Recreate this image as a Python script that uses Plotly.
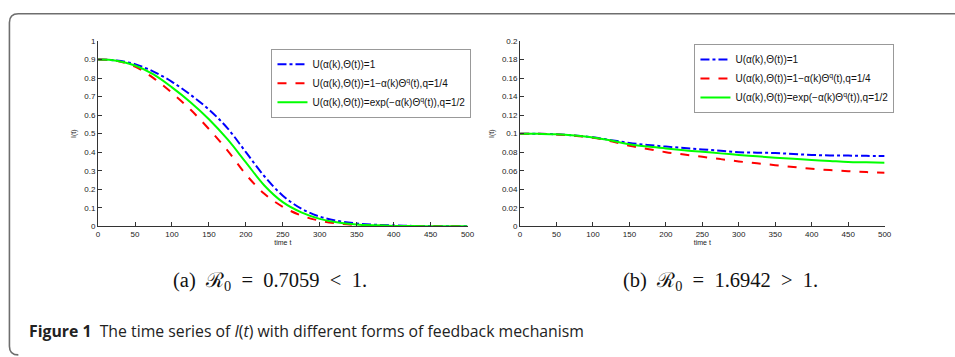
import plotly.graph_objects as go

# ---------------- data ----------------
t = [0, 25, 50, 75, 100, 125, 150, 175, 200, 225, 250, 275, 300, 325, 350, 375, 400, 425, 450, 475, 500]

# panel (a)  R0 = 0.7059 < 1
a_const = [0.9, 0.895, 0.875, 0.835, 0.78, 0.71, 0.63, 0.53, 0.40, 0.27, 0.165, 0.095, 0.052, 0.028, 0.015, 0.008, 0.004, 0.002, 0.001, 0.0005, 0.0003]
a_lin   = [0.9, 0.893, 0.862, 0.80, 0.72, 0.63, 0.525, 0.41, 0.28, 0.175, 0.105, 0.058, 0.03, 0.015, 0.007, 0.003, 0.0015, 0.0007, 0.0003, 0.0001, 0.0]
a_exp   = [0.9, 0.894, 0.868, 0.82, 0.75, 0.67, 0.578, 0.47, 0.345, 0.22, 0.13, 0.075, 0.04, 0.02, 0.01, 0.005, 0.002, 0.001, 0.0005, 0.0002, 0.0001]

# panel (b)  R0 = 1.6942 > 1
b_const = [0.1, 0.0998, 0.0993, 0.098, 0.096, 0.093, 0.0899, 0.0878, 0.086, 0.0845, 0.083, 0.0815, 0.080, 0.0795, 0.079, 0.078, 0.077, 0.0765, 0.0763, 0.076, 0.0759]
b_lin   = [0.1, 0.0998, 0.0992, 0.0978, 0.0955, 0.0918, 0.087, 0.0835, 0.080, 0.0775, 0.075, 0.0725, 0.070, 0.068, 0.066, 0.064, 0.062, 0.0607, 0.0595, 0.0585, 0.0577]
b_exp   = [0.1, 0.0998, 0.0993, 0.0979, 0.0958, 0.0925, 0.0885, 0.086, 0.084, 0.082, 0.0804, 0.0787, 0.077, 0.0755, 0.074, 0.0728, 0.0715, 0.0705, 0.0695, 0.069, 0.0685]

names = ["U(α(k),Θ(t))=1",
         "U(α(k),Θ(t))=1−α(k)Θ<sup>q</sup>(t),q=1/4",
         "U(α(k),Θ(t))=exp(−α(k)Θ<sup>q</sup>(t)),q=1/2"]
colors = ["#0000ff", "#ff0000", "#00ff00"]
dashes = ["dashdot", "dash", "solid"]

xticks = [0, 50, 100, 150, 200, 250, 300, 350, 400, 450, 500]
a_yticks = [0, 0.1, 0.2, 0.3, 0.4, 0.5, 0.6, 0.7, 0.8, 0.9, 1]
b_yticks = [0, 0.02, 0.04, 0.06, 0.08, 0.1, 0.12, 0.14, 0.16, 0.18, 0.2]

W, H = 955, 357
px = lambda x: x / W
py = lambda y: 1 - y / H

fig = go.Figure()
for i, ys in enumerate([a_const, a_lin, a_exp]):
    fig.add_trace(go.Scatter(x=t, y=ys, mode="lines", name=names[i],
                             line=dict(color=colors[i], dash=dashes[i], width=2, shape="spline"),
                             xaxis="x", yaxis="y", legend="legend"))
for i, ys in enumerate([b_const, b_lin, b_exp]):
    fig.add_trace(go.Scatter(x=t, y=ys, mode="lines", name=names[i],
                             line=dict(color=colors[i], dash=dashes[i], width=2, shape="spline"),
                             xaxis="x2", yaxis="y2", legend="legend2"))

sans = "Liberation Sans, Arial"
tickfont = dict(family=sans, size=8, color="#222")
axcommon = dict(showgrid=False, zeroline=False, showline=True, linecolor="#333", linewidth=1,
                ticks="inside", ticklen=4, tickcolor="#333", tickfont=tickfont, mirror=False)
titlefont = dict(family=sans, size=7, color="#222")

fig.update_layout(
    width=W, height=H, margin=dict(l=0, r=0, t=0, b=0),
    paper_bgcolor="white", plot_bgcolor="white",
    xaxis=dict(domain=[px(97), px(470)], range=[0, 500], tickvals=xticks, anchor="y",
               title=dict(text="time t", font=titlefont, standoff=2), **axcommon),
    yaxis=dict(domain=[py(228), py(38)], range=[0, 1], tickvals=a_yticks,
               ticktext=[f"{v:g}" for v in a_yticks], anchor="x",
               title=dict(text="I(t)", font=titlefont, standoff=6), **axcommon),
    xaxis2=dict(domain=[px(523), px(891)], range=[0, 500], tickvals=xticks, anchor="y2",
                title=dict(text="time t", font=titlefont, standoff=2), **axcommon),
    yaxis2=dict(domain=[py(228), py(38)], range=[0, 0.2], tickvals=b_yticks,
                ticktext=[f"{v:g}" for v in b_yticks], anchor="x2",
                title=dict(text="I(t)", font=titlefont, standoff=6), **axcommon),
    legend=dict(x=px(373), y=py(46), xanchor="center", yanchor="top", bgcolor="white",
                bordercolor="#999", borderwidth=1, font=dict(family=sans, size=10, color="#111"),
                tracegroupgap=0, itemwidth=30),
    legend2=dict(x=px(800), y=py(41), xanchor="center", yanchor="top", bgcolor="white",
                 bordercolor="#999", borderwidth=1, font=dict(family=sans, size=10, color="#111"),
                 tracegroupgap=0, itemwidth=30),
)

# rounded frame around the figure
L, T, R, B, r = 7.5, 10, 975, 360, 9
path = (f"M {px(R)},{py(T)} L {px(L + r)},{py(T)} Q {px(L)},{py(T)} {px(L)},{py(T + r)} "
        f"L {px(L)},{py(B - r)} Q {px(L)},{py(B)} {px(L + r)},{py(B)}")
fig.add_shape(type="path", path=path, xref="paper", yref="paper", line=dict(color="#6e6e6e", width=1.6))

serif = "Liberation Serif, Times New Roman, serif"
sp = "&nbsp;"
fig.add_annotation(x=px(271), y=py(285), xref="paper", yref="paper", showarrow=False,
                   xanchor="center", yanchor="middle",
                   text=f"(a){sp*2}ℛ<sub>0</sub>{sp*2}={sp*2}0.7059{sp*2}<{sp*2}1.",
                   font=dict(family=serif, size=20.5, color="#111"))
fig.add_annotation(x=px(725), y=py(285), xref="paper", yref="paper", showarrow=False,
                   xanchor="center", yanchor="middle",
                   text=f"(b){sp*2}ℛ<sub>0</sub>{sp*2}={sp*2}1.6942{sp*2}>{sp*2}1.",
                   font=dict(family=serif, size=20.5, color="#111"))
fig.add_annotation(x=px(25), y=py(335), xref="paper", yref="paper", xanchor="left", yanchor="middle",
                   showarrow=False,
                   text="<b>Figure 1</b>  The time series of <i>I</i>(<i>t</i>) with different forms of feedback mechanism",
                   font=dict(family="Open Sans, Noto Sans, sans-serif", size=15.8, color="#222"))

fig.write_html("out.html", config={"displayModeBar": False},
               post_script="document.body.style.margin='0';document.body.style.overflow='hidden';")
